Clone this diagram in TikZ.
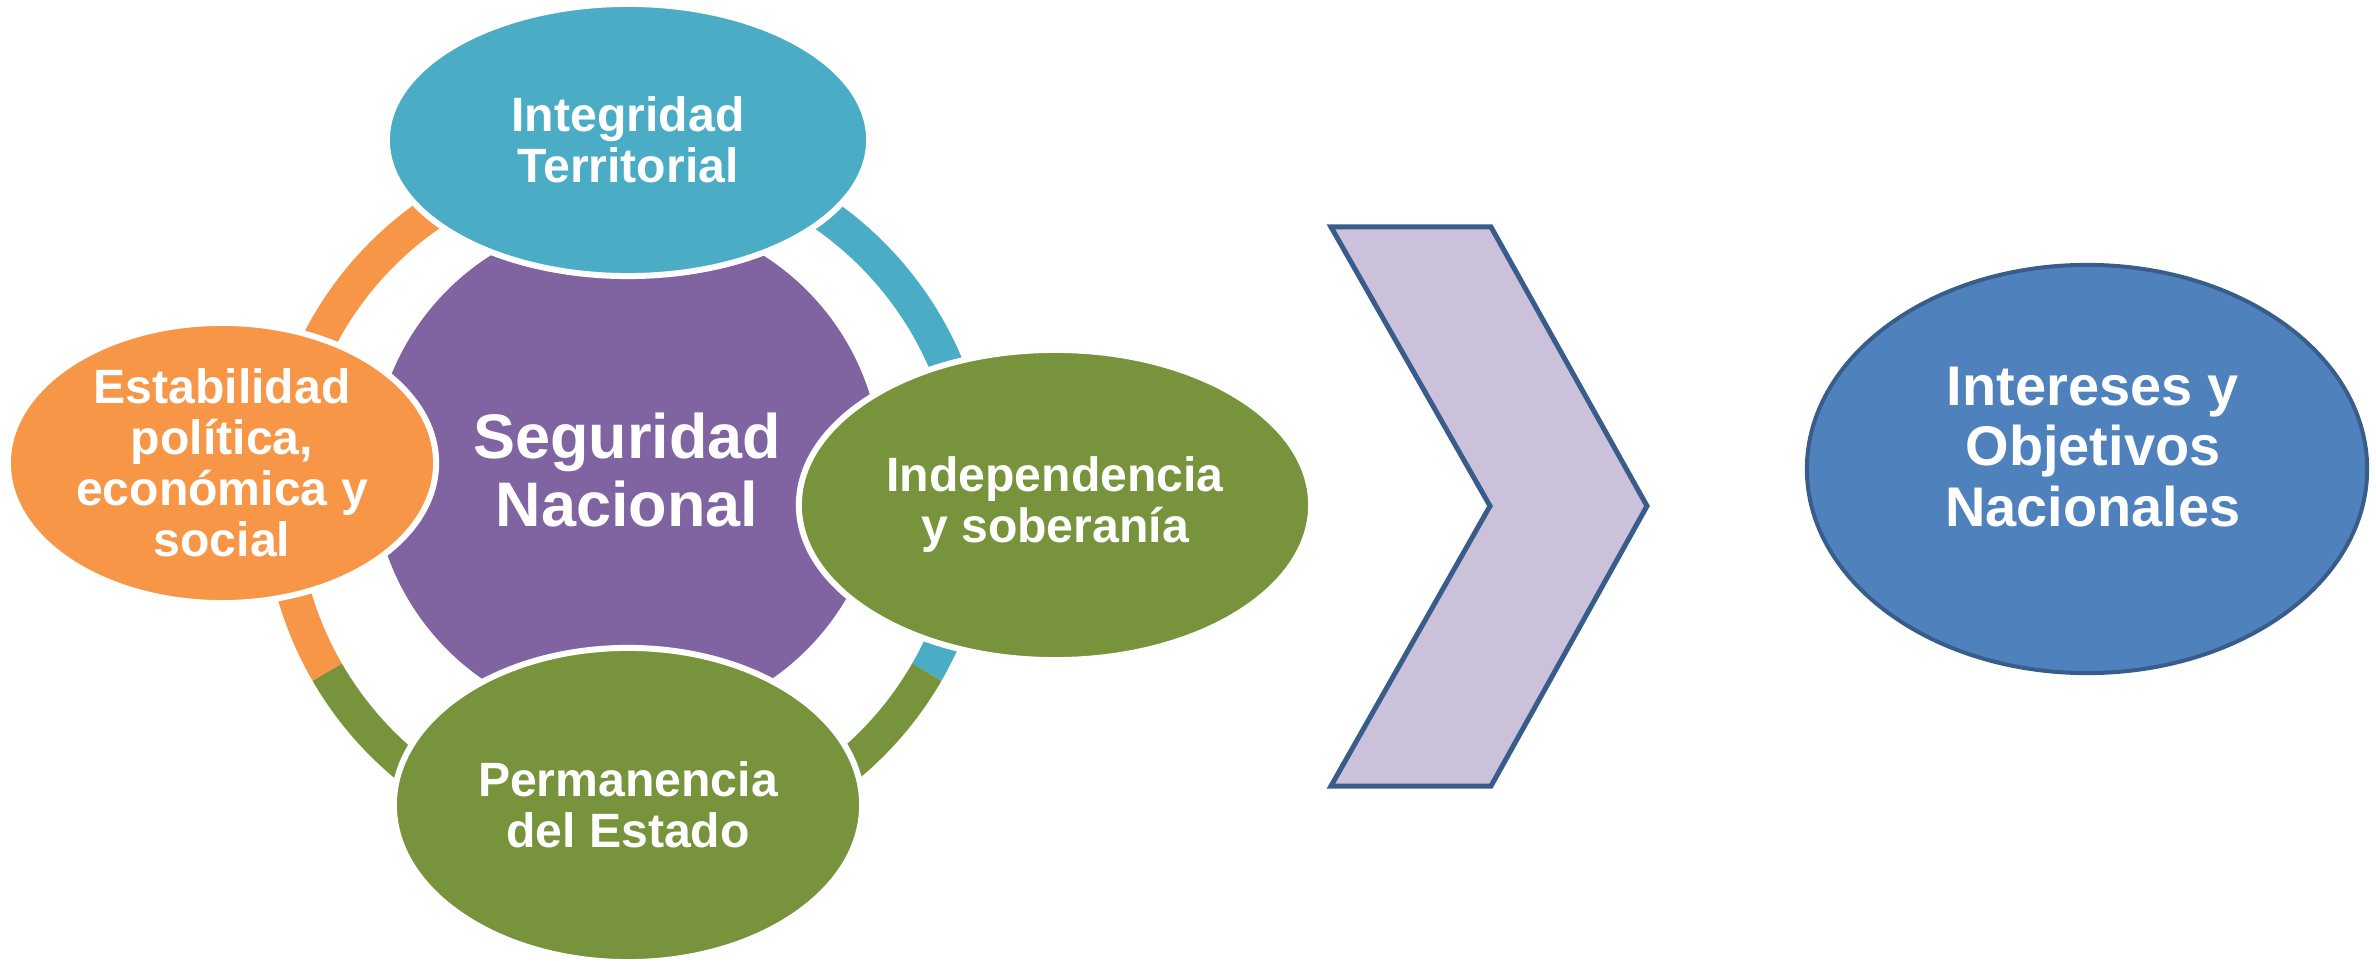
\documentclass[tikz,border=0pt]{standalone}
\usepackage{fontspec}
\setmainfont{Liberation Sans}
\usetikzlibrary{shapes.geometric}

\definecolor{raqua}{HTML}{4BACC6}
\definecolor{rolive}{HTML}{77933C}
\definecolor{rorange}{HTML}{F79646}
\definecolor{rpurple}{HTML}{8064A2}
\definecolor{rlilac}{HTML}{CCC1DA}
\definecolor{rsteel}{HTML}{4F81BD}
\definecolor{rnavy}{HTML}{385D8A}

\begin{document}
\begin{tikzpicture}[x=0.01cm,y=0.01cm,
    ring/.style={line width=0.34cm},
    bubble/.style={ellipse,draw=white,line width=0.06cm,inner sep=0pt,text=white,align=center,
      font=\fontsize{13.7}{14.5}\selectfont\bfseries}]
  \useasboundingbox (0,0) rectangle (2376,960);
  % ring behind the bubbles
  \coordinate (c) at (627,461);
  \draw[ring,raqua] ([shift={(90:3.46cm)}]c) arc[start angle=90,end angle=-30,radius=3.46cm];
  \draw[ring,rolive] ([shift={(-30:3.46cm)}]c) arc[start angle=-30,end angle=-150,radius=3.46cm];
  \draw[ring,rorange] ([shift={(210:3.46cm)}]c) arc[start angle=210,end angle=90,radius=3.46cm];
  \node[circle,fill=rpurple,minimum size=5.08cm,inner sep=0pt,text=white,align=center,
    font=\fontsize{17.9}{19.1}\selectfont\bfseries] (seg) at (627,490) {Seguridad\\Nacional};
  \node[bubble,fill=raqua,minimum width=4.82cm,minimum height=2.72cm] (integ) at (628,820) {Integridad\\Territorial};
  \node[bubble,fill=rolive,minimum width=5.12cm,minimum height=3.10cm] (indep) at (1055,455) {Independencia\\y soberanía};
  \node[bubble,fill=rolive,minimum width=4.68cm,minimum height=3.14cm] (perm) at (628,155) {Permanencia\\del Estado};
  \node[bubble,fill=rorange,minimum width=4.28cm,minimum height=2.80cm] (estab) at (222,497) {Estabilidad\\política,\\económica y\\social};
  % chevron
  \draw[fill=rlilac,draw=rnavy,line width=0.05cm] (1331,733) -- (1491,733) -- (1647,454) -- (1491,174) -- (1331,174) -- (1490,454) -- cycle;
  \node[ellipse,fill=rsteel,draw=rnavy,line width=0.04cm,minimum width=5.6cm,minimum height=4.08cm] (goal) at (2087,491) {};
  \node[text=white,align=center,font=\fontsize{15.9}{17.1}\selectfont\bfseries] (goaltext) at (2093,513) {Intereses y\\Objetivos\\Nacionales};
\end{tikzpicture}
\end{document}
